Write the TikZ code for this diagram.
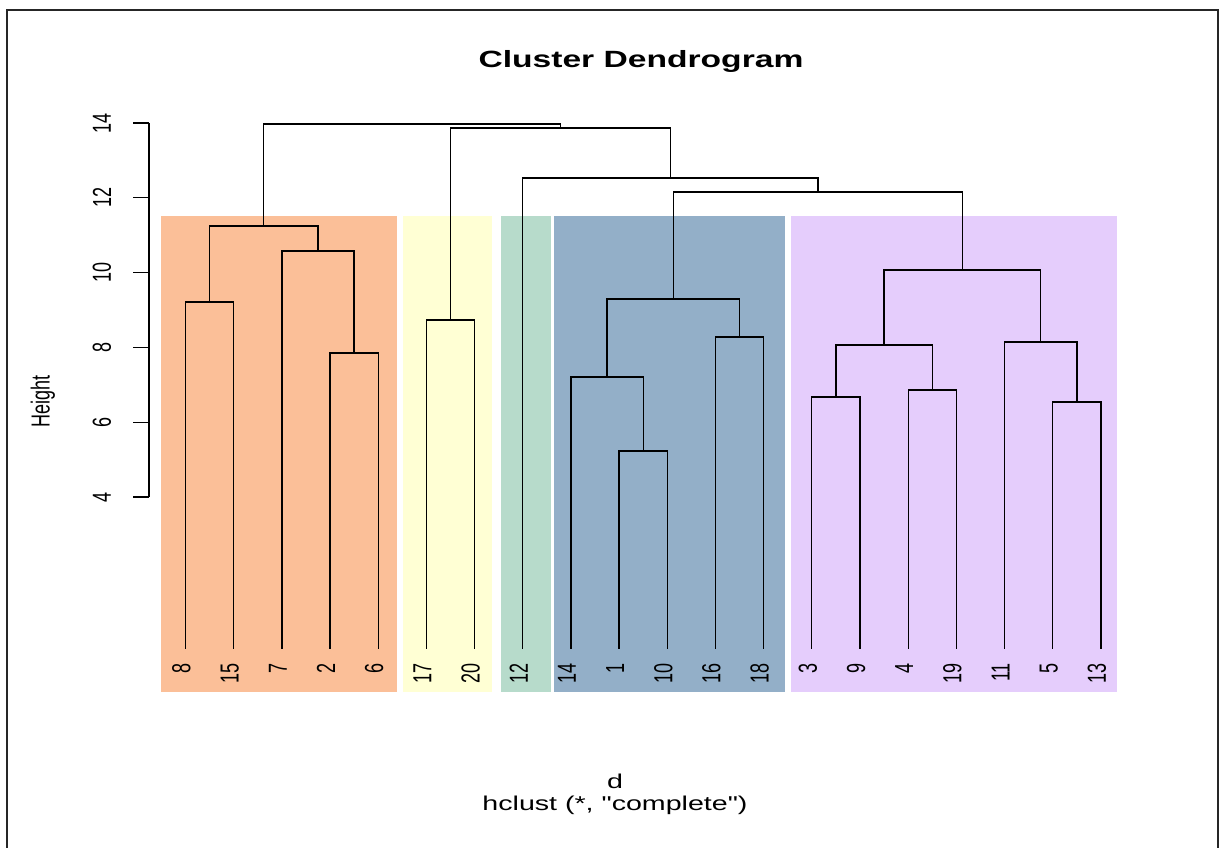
\documentclass[tikz,border=0pt]{standalone}
\usepackage{fontspec}
\setmainfont{Liberation Sans}
\newfontfamily\rawfont{Liberation Sans}
\usepackage{tikz}
\usetikzlibrary{calc}
\usepackage{color}
\definecolor{peach}{RGB}{251, 191, 152}
\definecolor{cream}{RGB}{255, 255, 212}
\definecolor{sage}{RGB}{183, 219, 203}
\definecolor{steel}{RGB}{147, 175, 200}
\definecolor{lilac}{RGB}{229, 205, 252}
\newcommand{\vtext}[1]{\scalebox{1}[1.45]{#1}}
\newcommand{\htext}[1]{\scalebox{1.43}[1]{#1}}
\tikzset{
  branch/.style={line width=1.3pt, line cap=rect},
  leaflab/.style={rotate=90, anchor=east, inner sep=0pt, font=\fontsize{18}{18}\selectfont},
  ticklab/.style={rotate=90, anchor=center, inner sep=0pt, font=\fontsize{18}{18}\selectfont}
}

\begin{document}
\begin{tikzpicture}[x=1pt, y=-1pt]
            \useasboundingbox (0,0) rectangle (1219,848);
            \fill[white] (0,0) rectangle (1219,848);
            \draw[line width=1.6pt, color=black!85] (7,850) -- (7,10) -- (1218,10) -- (1218,850);
            \fill[peach] (161,216) rectangle (397,692);
            \fill[cream] (403,216) rectangle (492,692);
            \fill[sage]  (501,216) rectangle (551,692);
            \fill[steel] (554,216) rectangle (785,692);
            \fill[lilac] (791,216) rectangle (1117,692);
            \node[anchor=base, font=\fontsize{23.5}{28}\selectfont\bfseries] (title) at (641,68) {\htext{Cluster Dendrogram}};
            \node[anchor=base, font=\fontsize{20}{24}\selectfont] (sub) at (615,788) {\htext{d}};
            \node[anchor=base, font=\fontsize{20}{24}\selectfont\rawfont] (meth) at (615,810) {\htext{hclust (*, "complete")}};
            \node[ticklab] (ylab) at (43,401) {\vtext{Height}};
            \coordinate (axtop) at (149,123);
            \coordinate (axbot) at (149,497);
            \draw[line width=1.3pt] (axtop) -- (axbot);
            \foreach \h in {4,6,...,14} {
                \coordinate (tk\h) at (149,{123+(14-\h)*37.4});
                \draw[line width=1.3pt] (tk\h) -- ++(-16,0);
                \node[ticklab] (tick\h) at (102,{123+(14-\h)*37.4}) {\vtext{\h}};
            }
            \foreach \lab [count=\i from 0] in {8,15,7,2,6,17,20,12,14,1,10,16,18,3,9,4,19,11,5,13} {
                \coordinate (l\lab) at ({185.5+48.18*\i},648);
                \node[leaflab] (t\lab) at ({181.5+48.18*\i},663) {\vtext{\lab}};
            }
            \coordinate (m815)  at (209.6,302);
            \coordinate (m26)   at (354.1,353);
            \coordinate (m726)  at (318.0,251);
            \coordinate (mor)   at (263.8,226);
            \coordinate (m1720) at (450.5,320);
            \coordinate (m110)  at (643.2,451);
            \coordinate (m14)   at (607.1,377);
            \coordinate (m1618) at (739.6,337);
            \coordinate (mbl)   at (673.3,299);
            \coordinate (m39)   at (835.9,397);
            \coordinate (m419)  at (932.3,390);
            \coordinate (m34)   at (884.1,345);
            \coordinate (m513)  at (1076.9,402);
            \coordinate (m11)   at (1040.8,342);
            \coordinate (mpu)   at (962.4,270);
            \coordinate (mbp)   at (817.9,192);
            \coordinate (m12)   at (670.3,178);
            \coordinate (m17)   at (560.4,128);
            \coordinate (mtop)  at (412.1,124);
            \draw[branch] (l8) |- (m815) -| (l15);
            \draw[branch] (l2) |- (m26) -| (l6);
            \draw[branch] (l7) |- (m726) -| (m26);
            \draw[branch] (m815) |- (mor) -| (m726);
            \draw[branch] (l17) |- (m1720) -| (l20);
            \draw[branch] (l1) |- (m110) -| (l10);
            \draw[branch] (l14) |- (m14) -| (m110);
            \draw[branch] (l16) |- (m1618) -| (l18);
            \draw[branch] (m14) |- (mbl) -| (m1618);
            \draw[branch] (l3) |- (m39) -| (l9);
            \draw[branch] (l4) |- (m419) -| (l19);
            \draw[branch] (m39) |- (m34) -| (m419);
            \draw[branch] (l5) |- (m513) -| (l13);
            \draw[branch] (l11) |- (m11) -| (m513);
            \draw[branch] (m34) |- (mpu) -| (m11);
            \draw[branch] (mbl) |- (mbp) -| (mpu);
            \draw[branch] (l12) |- (m12) -| (mbp);
            \draw[branch] (m1720) |- (m17) -| (m12);
            \draw[branch] (mor) |- (mtop) -| (m17);
        \end{tikzpicture}
\end{document}
